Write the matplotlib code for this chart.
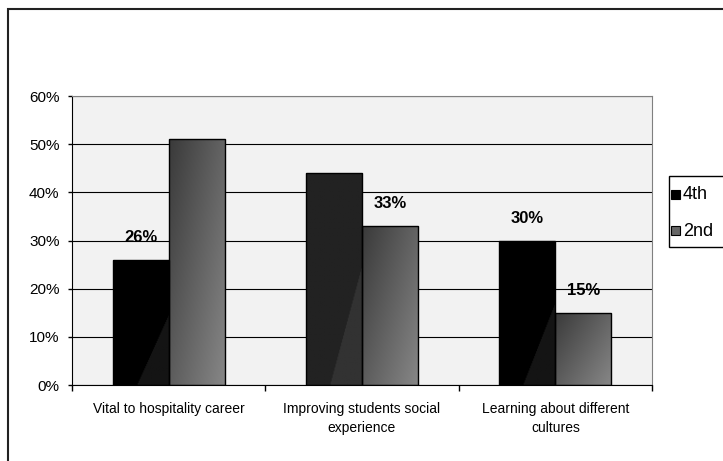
import numpy as np
import matplotlib
matplotlib.use("Agg")
import matplotlib.pyplot as plt
from matplotlib.patches import Rectangle
from matplotlib.ticker import PercentFormatter, FixedLocator

plt.rcParams['font.family'] = ['Liberation Sans', 'DejaVu Sans']

# survey results
categories = ["Vital to hospitality career",
              "Improving students social\nexperience",
              "Learning about different\ncultures"]
series_names = ["4th", "2nd"]
fourth = [0.26, 0.44, 0.30]
second = [0.51, 0.33, 0.15]
label_fourth = [True, False, True]
label_second = [False, True, True]

W, H = 723, 461
fig = plt.figure(figsize=(W / 100, H / 100), dpi=100)
ax = fig.add_axes([72 / W, (H - 385) / H, 580 / W, 289 / H])
ax.set_facecolor('#f2f2f2')


def shade_bar(bar, shade):
    """Paint an image over a bar, clipped to its rectangle."""
    x0, y0 = bar.get_x(), bar.get_y()
    w, h = bar.get_width(), bar.get_height()
    xs = np.linspace(0, 1, 60)
    ys = np.linspace(0, 1, 120)
    xx, yy = np.meshgrid(xs, ys)
    img = shade(xx, yy)
    im = ax.imshow(img, extent=(x0, x0 + w, y0, y0 + h), origin='lower',
                   aspect='auto', interpolation='bilinear', zorder=2)
    im.set_clip_path(bar)


def dark_shade(base, light):
    def f(xx, yy):
        v = np.where(xx - yy > 0.43, light, base) / 255.0
        return np.dstack([v, v, v])
    return f


def grey_shade(xx, yy):
    t = 0.55 * xx + 0.45 * (1 - yy)
    v = (58 + t * (135 - 58)) / 255.0
    return np.dstack([v, v, v])


x = np.arange(len(categories))
width = 0.29
bars4 = ax.bar(x - width / 2, fourth, width, color='black', edgecolor='black',
               linewidth=1, zorder=3)
bars2 = ax.bar(x + width / 2, second, width, color='#606060', edgecolor='black',
               linewidth=1, zorder=3)

dark_bases = [(0, 20), (34, 50), (0, 20)]
for bar, (b, l) in zip(bars4, dark_bases):
    bar.set_facecolor('none')
    shade_bar(bar, dark_shade(b, l))
for bar in bars2:
    bar.set_facecolor('none')
    shade_bar(bar, grey_shade)

for i in range(len(categories)):
    if label_fourth[i]:
        ax.annotate(f"{fourth[i]:.0%}", (x[i] - width / 2, fourth[i]),
                    xytext=(0, 16), textcoords='offset points', ha='center',
                    va='center', fontsize=12, fontweight='bold', zorder=5)
    if label_second[i]:
        ax.annotate(f"{second[i]:.0%}", (x[i] + width / 2, second[i]),
                    xytext=(0, 16), textcoords='offset points', ha='center',
                    va='center', fontsize=12, fontweight='bold', zorder=5)

ax.set_xlim(-0.5, len(categories) - 0.5)
ax.set_ylim(0, 0.6)
ax.set_yticks(np.arange(0, 0.61, 0.1))
ax.yaxis.set_major_formatter(PercentFormatter(1.0, decimals=0))
ax.yaxis.grid(True, color='black', linewidth=0.8)
ax.set_axisbelow(True)

ax.xaxis.set_major_locator(FixedLocator(np.arange(-0.5, len(categories), 1.0)))
ax.xaxis.set_minor_locator(FixedLocator(x))
ax.set_xticklabels([], minor=False)
ax.set_xticklabels(categories, minor=True, fontsize=10, linespacing=1.45)
ax.tick_params(axis='x', which='major', direction='out', length=4, width=1)
ax.tick_params(axis='x', which='minor', length=0, pad=12)
ax.tick_params(axis='y', direction='out', length=3, width=1, pad=6,
               labelsize=11)

for side in ['top', 'right']:
    ax.spines[side].set_color('#808080')
for side in ['left', 'bottom']:
    ax.spines[side].set_color('black')

# legend box, running off the right edge of the chart area
fig.add_artist(Rectangle((669 / W, 1 - 247 / H), 100 / W, 71 / H,
                         transform=fig.transFigure, facecolor='white',
                         edgecolor='black', linewidth=1))
key_colors = ['black', '#666666']
for k, (name, col) in enumerate(zip(series_names, key_colors)):
    yc = 194 + 37 * k
    fig.add_artist(Rectangle((671 / W, 1 - (yc + 4.5) / H), 9 / W, 9 / H,
                             transform=fig.transFigure, facecolor=col,
                             edgecolor='black', linewidth=0.8))
    fig.text(683 / W, 1 - yc / H, name, fontsize=13, ha='left', va='center')

# outer chart border
fig.add_artist(Rectangle((8 / W, -0.1), 1.2, 1.1 - 9 / H,
                         transform=fig.transFigure, fill=False,
                         edgecolor='#222222', linewidth=1.5))

fig.savefig('out.png', dpi=100)
